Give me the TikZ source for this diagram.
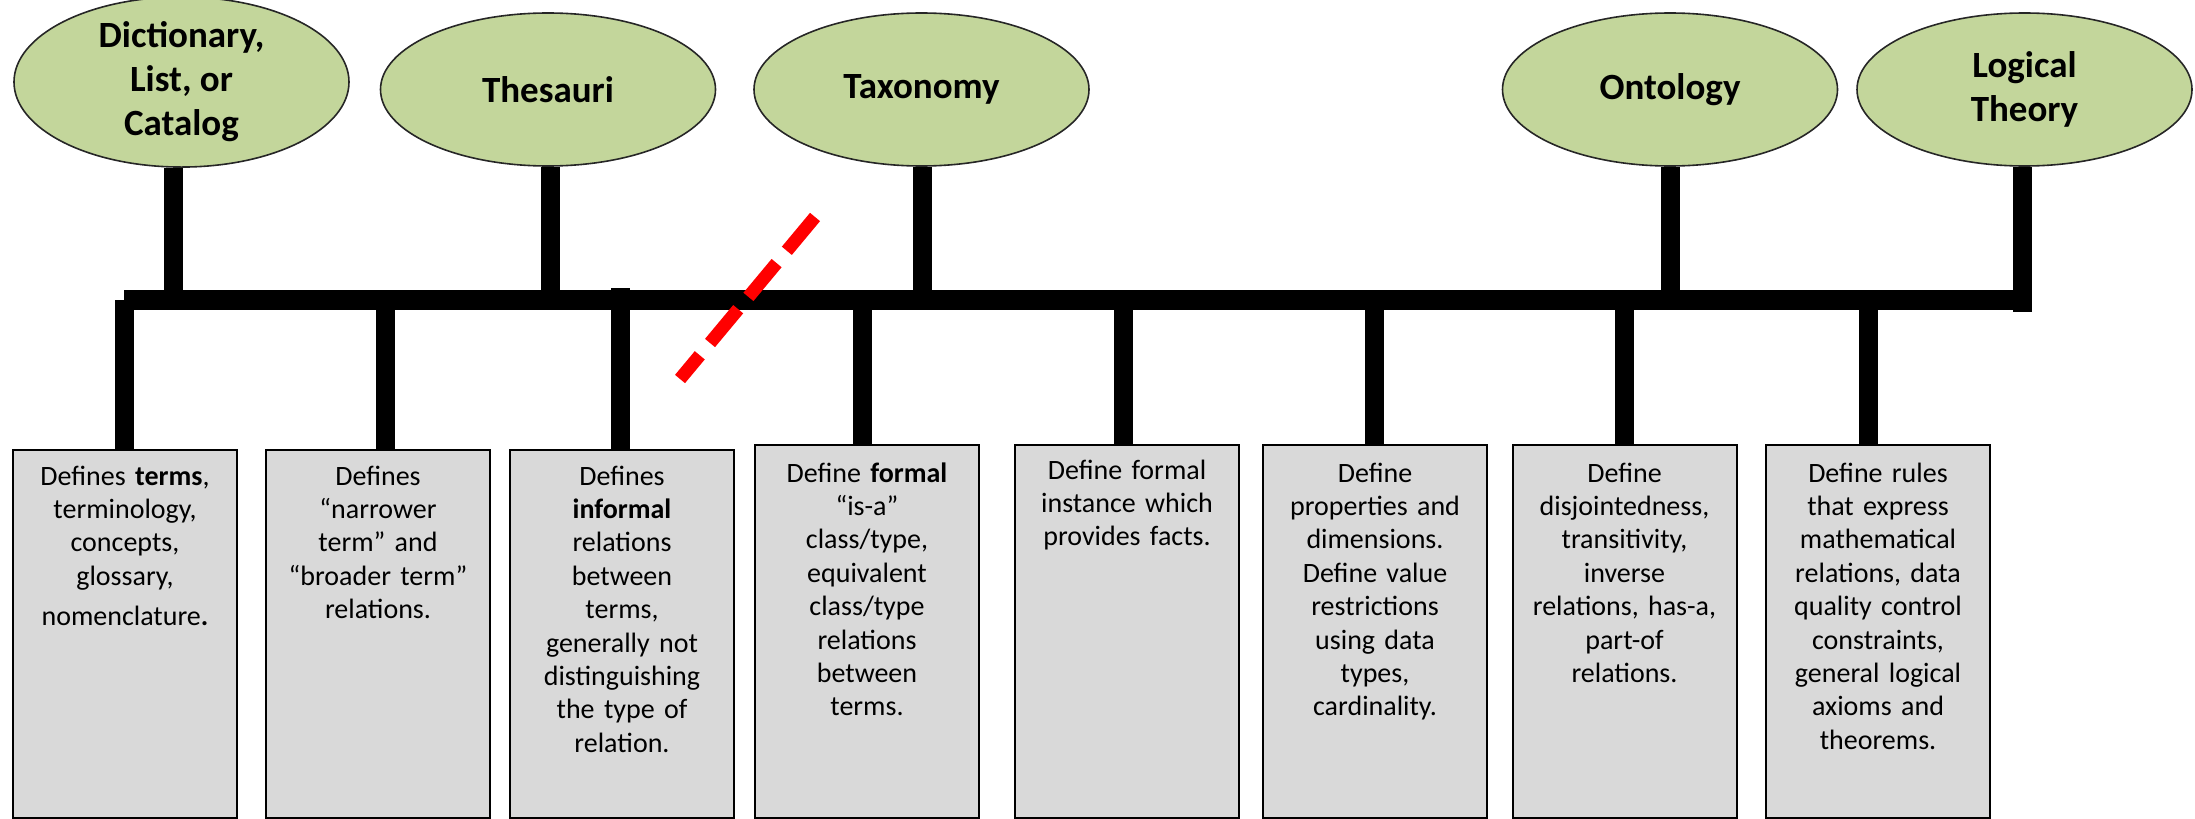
\documentclass[tikz,border=0pt]{standalone}
\usepackage{fontspec}
\setmainfont{Carlito}
\usetikzlibrary{shapes.geometric}

\definecolor{leafgreen}{HTML}{C3D69B}
\definecolor{boxgray}{HTML}{D9D9D9}
\definecolor{cutred}{HTML}{FF0000}

\begin{document}
\begin{tikzpicture}[x=0.5pt,y=-0.5pt,
  level/.style={ellipse, draw=black!85, line width=0.8pt, fill=leafgreen,
    minimum width=167.5pt, minimum height=77pt, inner sep=0pt, align=center,
    font=\fontsize{18.5}{22}\selectfont\bfseries},
  descbox/.style={rectangle, draw=black, line width=1pt, fill=boxgray,
    minimum width=112pt, anchor=north, inner sep=0pt},
  desctext/.style={anchor=base, text width=110pt, align=center, inner sep=0pt,
    font=\fontsize{14}{16.7}\selectfont},
  stem/.style={draw=black, line width=9.5pt},
  bus/.style={draw=black, line width=10pt, line cap=square},
  cut/.style={draw=cutred, line width=6.5pt, dash pattern=on 22pt off 8pt}
]
\useasboundingbox (0,0) rectangle (2195,819);

% joints on the main bar
\coordinate (busL) at (124,300);
\coordinate (busR) at (2022,300);
\coordinate (u1) at (173.5,300);
\coordinate (u2) at (550.5,300);
\coordinate (u3) at (922,300);
\coordinate (u4) at (1670,300);
\coordinate (u5) at (2022,312);
\coordinate (s1) at (124,300);
\coordinate (s2) at (385,300);
\coordinate (s3) at (620,288);
\coordinate (s4) at (862.5,300);
\coordinate (s5) at (1123,300);
\coordinate (s6) at (1374,300);
\coordinate (s7) at (1624,300);
\coordinate (s8) at (1868.5,300);

% description boxes
\node[descbox, minimum height=184pt]   (b1) at (125,449) {};
\node[descbox, minimum height=184pt]   (b2) at (378,449) {};
\node[descbox, minimum height=184pt]   (b3) at (622,449) {};
\node[descbox, minimum height=186.5pt] (b4) at (867,444) {};
\node[descbox, minimum height=186.5pt] (b5) at (1127,444) {};
\node[descbox, minimum height=186.5pt] (b6) at (1375,444) {};
\node[descbox, minimum height=186.5pt] (b7) at (1624.5,444) {};
\node[descbox, minimum height=186.5pt] (b8) at (1878,444) {};

% levels of the spectrum
\node[level, minimum height=77pt]   (e1) at (181.5,82)   {Dictionary,\\List, or\\Catalog};
\node[level, minimum height=76.5pt] (e2) at (548,89.5)   {Thesauri};
\node[level, minimum height=76.5pt] (e3) at (921.5,89.5) {Taxonomy};
\node[level, minimum height=76.5pt] (e4) at (1670,89.5)  {Ontology};
\node[level, minimum height=76.5pt] (e5) at (2024.5,89.5){Logical\\Theory};

% stems from the levels down to the bar
\draw[stem] (u1 |- e1.south) -- (u1);
\draw[stem] (u2 |- e2.south) -- (u2);
\draw[stem] (u3 |- e3.south) -- (u3);
\draw[stem] (u4 |- e4.south) -- (u4);
\draw[stem] (u5 |- e5.south) -- (u5);

% stems from the bar down to the boxes
\draw[stem] (s1) -- (s1 |- b1.north);
\draw[stem] (s2) -- (s2 |- b2.north);
\draw[stem] (s3) -- (s3 |- b3.north);
\draw[stem] (s4) -- (s4 |- b4.north);
\draw[stem] (s5) -- (s5 |- b5.north);
\draw[stem] (s6) -- (s6 |- b6.north);
\draw[stem] (s7) -- (s7 |- b7.north);
\draw[stem] (s8) -- (s8 |- b8.north);

% main bar
\draw[bus] (busL) -- (busR);

% box texts
\node[desctext] (t1) at (125,485) {Defines \textbf{terms},\\terminology,\\concepts,\\glossary,\\[3.3pt]nomenclature{\bfseries .}};
\node[desctext] (t2) at (378,485) {Defines\\“narrower\\term” and\\“broader term”\\relations.};
\node[desctext] (t3) at (622,485) {Defines\\\textbf{informal}\\relations\\between\\terms,\\generally not\\distinguishing\\the type of\\relation.};
\node[desctext] (t4) at (867,482) {Define \textbf{formal}\\“is-a”\\class/type,\\equivalent\\class/type\\relations\\between\\terms.};
\node[desctext] (t5) at (1127,479) {Define formal\\instance which\\provides facts.};
\node[desctext] (t6) at (1375,482) {Define\\properties and\\dimensions.\\Define value\\restrictions\\using data\\types,\\cardinality.};
\node[desctext] (t7) at (1624.5,482) {Define\\disjointedness,\\transitivity,\\inverse\\relations, has-a,\\part-of\\relations.};
\node[desctext] (t8) at (1878,482) {Define rules\\that express\\mathematical\\relations, data\\quality control\\constraints,\\general logical\\axioms and\\theorems.};

% red cut mark across the bar
\coordinate (cutA) at (815,217);
\coordinate (cutB) at (680,379);
\draw[cut] (cutA) -- (cutB);
\end{tikzpicture}
\end{document}
